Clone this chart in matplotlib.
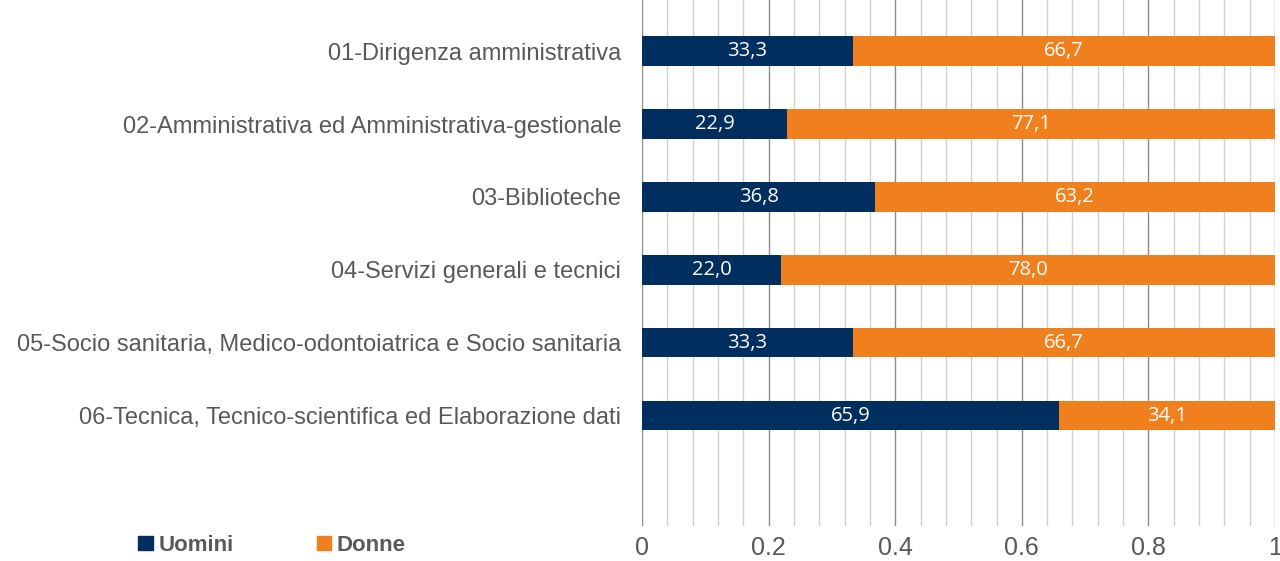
import numpy as np
import matplotlib.pyplot as plt
from matplotlib.ticker import MultipleLocator
from matplotlib.patches import Patch

categories = ["01-Dirigenza amministrativa",
              "02-Amministrativa ed Amministrativa-gestionale",
              "03-Biblioteche",
              "04-Servizi generali e tecnici",
              "05-Socio sanitaria, Medico-odontoiatrica e Socio sanitaria",
              "06-Tecnica, Tecnico-scientifica ed Elaborazione dati"]
uomini = [33.3, 22.9, 36.8, 22.0, 33.3, 65.9]
donne = [66.7, 77.1, 63.2, 78.0, 66.7, 34.1]
xtick_labels = ["0", "0.2", "0.4", "0.6", "0.8", "1"]

c_u = "#002F5F"
c_d = "#F07F1E"
grey = "#595959"

fig = plt.figure(figsize=(12.8, 5.61), dpi=100)
ax = fig.add_axes([0.5016, 0.0624, 0.4945, 0.9376])

y = np.arange(len(categories))
u = np.array(uomini) / 100
d = np.array(donne) / 100
ax.barh(y, u, height=0.4, color=c_u, zorder=3)
ax.barh(y, d, left=u, height=0.4, color=c_d, zorder=3)

# etichette dei valori dentro le barre
for i in range(len(y)):
    ax.text(u[i] / 2, y[i], f"{uomini[i]:.1f}".replace(".", ","), color="white",
            ha="center", va="center", fontsize=14.5, family="Open Sans", zorder=4)
    ax.text(u[i] + d[i] / 2, y[i], f"{donne[i]:.1f}".replace(".", ","), color="white",
            ha="center", va="center", fontsize=14.5, family="Open Sans", zorder=4)

ax.set_xlim(0, 1)
ax.set_ylim(6.51, -0.70)
ax.xaxis.set_major_locator(MultipleLocator(0.2))
ax.xaxis.set_minor_locator(MultipleLocator(0.04))
ax.grid(axis="x", which="major", color="#8c8c8c", linewidth=1, zorder=1)
ax.grid(axis="x", which="minor", color="#d0d0d0", linewidth=1, zorder=0)
ax.set_xticks([0, 0.2, 0.4, 0.6, 0.8, 1])
ax.set_xticklabels(xtick_labels)
ax.tick_params(axis="x", which="both", length=0, pad=7, labelsize=18, labelcolor=grey)
ax.set_yticks(y)
ax.set_yticklabels(categories)
ax.tick_params(axis="y", length=0, pad=15, labelsize=17, labelcolor=grey)
for lab in ax.get_xticklabels() + ax.get_yticklabels():
    lab.set_family("Liberation Sans")
for s in ax.spines.values():
    s.set_visible(False)

handles = [Patch(color=c_u, label="Uomini"), Patch(color=c_d, label="Donne")]
leg = fig.legend(handles=handles, loc="center left", bbox_to_anchor=(0.0925, 0.028), ncol=2,
                 frameon=False, handlelength=0.65, handleheight=0.65, handletextpad=0.25,
                 columnspacing=3.75, prop={"family": "Liberation Sans", "weight": "bold", "size": 16})
for t in leg.get_texts():
    t.set_color(grey)

fig.savefig("out.png", dpi=100)
